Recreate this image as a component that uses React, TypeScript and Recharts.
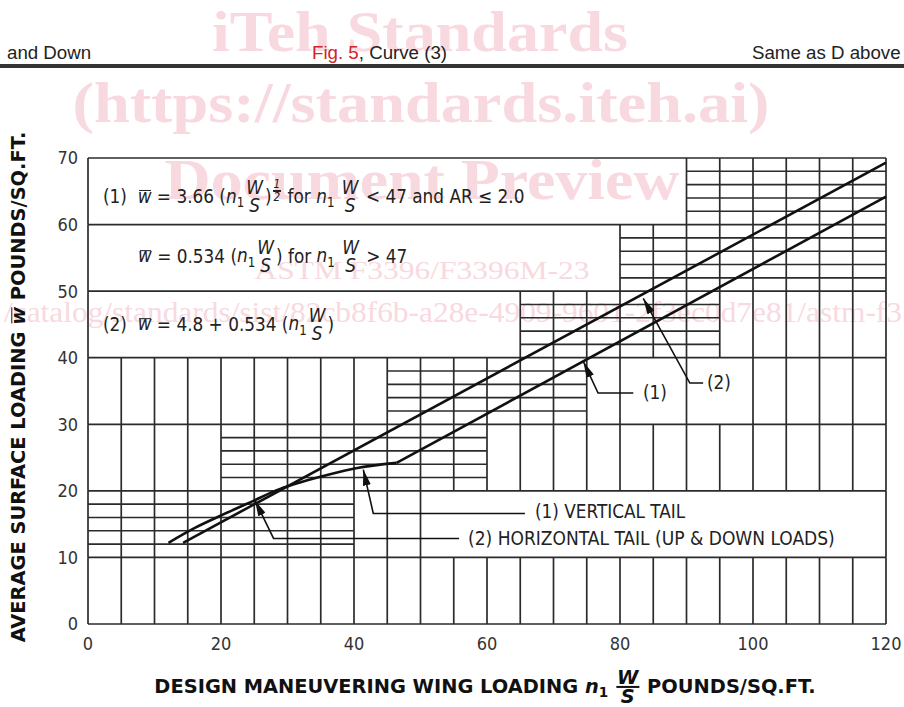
import React from "react"
import { LineChart, Line, XAxis, YAxis, ReferenceLine } from "recharts"

const xTicks = [0, 20, 40, 60, 80, 100, 120]
const yTicks = [0, 10, 20, 30, 40, 50, 60, 70]
const gridX = [0, 5, 10, 15, 20, 25, 30, 35, 40, 45, 50, 55, 60, 65, 70, 75, 80, 85, 90, 95, 100, 105, 110, 115, 120]
const majorY = [0, 10, 20, 30, 40, 50, 60, 70]

// vertical rules, band by band (the text boxes blank them out)
const bands = [
  { y0: 0, y1: 10, xs: gridX },
  { y0: 10, y1: 20, xs: [0, 5, 10, 15, 20, 25, 30, 35, 40, 45, 50, 120] },
  { y0: 20, y1: 30, xs: gridX },
  { y0: 30, y1: 40, xs: gridX.filter((x) => x !== 85 && x !== 95) },
  { y0: 40, y1: 50, xs: [0, 65, 70, 75, 80, 85, 90, 95, 100, 105, 110, 115, 120] },
  { y0: 50, y1: 60, xs: [0, 80, 85, 90, 95, 100, 105, 110, 115, 120] },
  { y0: 60, y1: 70, xs: [0, 90, 95, 100, 105, 110, 115, 120] },
]

// the finer 2-unit rules, stepped along the curves
const fineRules = [
  { ys: [12, 14, 16, 18], x0: 0, x1: 40 },
  { ys: [22, 24, 26, 28], x0: 20, x1: 60 },
  { ys: [32, 34, 36, 38], x0: 45, x1: 75 },
  { ys: [42, 44, 46, 48], x0: 65, x1: 95 },
  { ys: [52, 54, 56, 58], x0: 80, x1: 120 },
  { ys: [62, 64, 66, 68], x0: 90, x1: 120 },
]

// curve (1) vertical tail: bent part below ~46, then straight
const verticalTailBend = [
  { x: 12.1, y: 12.2 },
  { x: 16, y: 14.4 },
  { x: 20, y: 16.3 },
  { x: 24, y: 18.1 },
  { x: 28.9, y: 20.3 },
  { x: 32, y: 21.3 },
  { x: 36.4, y: 22.5 },
  { x: 40.3, y: 23.4 },
  { x: 46.4, y: 24.2 },
]
const verticalTailStraight = [
  { x: 46.4, y: 24.2 },
  { x: 120, y: 64.2 },
]
// curve (2) horizontal tail
const horizontalTail = [
  { x: 14.3, y: 12.2 },
  { x: 120, y: 69.3 },
]

// leader lines, arrow tip first
const leaderVertical = [
  { x: 41.4, y: 23.2 },
  { x: 42.9, y: 16.6 },
  { x: 65.7, y: 16.6 },
]
const leaderHorizontal = [
  { x: 25.1, y: 18.6 },
  { x: 27.9, y: 12.85 },
  { x: 55.8, y: 12.85 },
]
const leaderOne = [
  { x: 74.5, y: 39.4 },
  { x: 76.7, y: 34.7 },
  { x: 82, y: 34.7 },
]
const leaderTwo = [
  { x: 83.5, y: 48.9 },
  { x: 90.5, y: 36.2 },
  { x: 92.5, y: 36.2 },
]

const FONT = "'DejaVu Sans Condensed', 'Liberation Sans', sans-serif"
const TITLE_FONT = "'DejaVu Sans', sans-serif"
const HEAD_FONT = "'Liberation Sans', sans-serif"
const INK = "#222"
const RULE = "#2b2b2b"
const PINK = "#f9d9e0"

const Wbar = () => (
  <span style={{ fontStyle: "italic", position: "relative", display: "inline-block" }}>
    w
    <span
      style={{
        position: "absolute",
        left: "0.08em",
        right: "0.02em",
        top: "0.12em",
        borderTop: "1.6px solid currentColor",
      }}
    />
  </span>
)
const N1 = () => (
  <span>
    <i>n</i>
    <span style={{ fontSize: "0.7em", position: "relative", top: "0.35em" }}>1</span>
  </span>
)
const Frac = ({ top, bottom, bar = false, lh = 0.95 }: any) => (
  <span
    style={{
      display: "inline-flex",
      flexDirection: "column",
      alignItems: "center",
      verticalAlign: "middle",
      lineHeight: lh,
      fontStyle: "italic",
      margin: "0 1px",
    }}
  >
    <span style={{ borderBottom: bar ? "2px solid currentColor" : undefined, padding: "0 1px" }}>{top}</span>
    <span>{bottom}</span>
  </span>
)

const Txt = ({ x, y, size = 18.8, children, style }: any) => (
  <div
    style={{
      position: "absolute",
      left: x,
      top: y,
      transform: "translateY(-50%)",
      fontSize: size,
      lineHeight: 1,
      whiteSpace: "nowrap",
      color: INK,
      fontFamily: FONT,
      ...style,
    }}
  >
    {children}
  </div>
)

export default function App() {
  const rules: any[] = []
  bands.forEach((b) =>
    b.xs.forEach((x) =>
      rules.push(
        <ReferenceLine
          key={`v-${b.y0}-${x}`}
          segment={[{ x, y: b.y0 }, { x, y: b.y1 }]}
          stroke={RULE}
          strokeWidth={1.7}
        />
      )
    )
  )
  majorY.forEach((y) =>
    rules.push(
      <ReferenceLine key={`h-${y}`} segment={[{ x: 0, y }, { x: 120, y }]} stroke={RULE} strokeWidth={1.7} />
    )
  )
  fineRules.forEach((f) =>
    f.ys.forEach((y) =>
      rules.push(
        <ReferenceLine
          key={`f-${y}`}
          segment={[{ x: f.x0, y }, { x: f.x1, y }]}
          stroke={RULE}
          strokeWidth={1.6}
        />
      )
    )
  )

  const leaders = [leaderVertical, leaderHorizontal, leaderOne, leaderTwo]

  return (
    <div style={{ position: "absolute", left: 0, top: 0, width: 904, height: 707, background: "#fff", overflow: "hidden" }}>
      <svg width={904} height={707} style={{ position: "absolute", left: 0, top: 0 }}>
        <g fill={PINK} fontFamily="'Liberation Serif', serif">
          <text x={420} y={51} fontSize={56} fontWeight="bold" textAnchor="middle" textLength={416} lengthAdjust="spacingAndGlyphs">
            iTeh Standards
          </text>
          <text x={421} y={122} fontSize={58} fontWeight="bold" textAnchor="middle" textLength={697} lengthAdjust="spacingAndGlyphs">
            (https://standards.iteh.ai)
          </text>
          <text x={422} y={199} fontSize={58} fontWeight="bold" textAnchor="middle" textLength={515} lengthAdjust="spacingAndGlyphs">
            Document Preview
          </text>
          <text x={422} y={279} fontSize={26} textAnchor="middle" textLength={335} lengthAdjust="spacingAndGlyphs">
            ASTM F3396/F3396M-23
          </text>
          <text x={4} y={322} fontSize={29} textLength={898} lengthAdjust="spacingAndGlyphs">
            /catalog/standards/sist/82cb8f6b-a28e-4909-9601-2f3ec0d7e81/astm-f3
          </text>
        </g>
      </svg>

      <div style={{ position: "absolute", left: 0, top: 0 }}>
        <LineChart width={904} height={707} margin={{ top: 158, right: 18, bottom: 53, left: 48 }}>
          <defs>
            <marker
              id="arrow"
              viewBox="0 0 16 8"
              refX={16}
              refY={4}
              markerWidth={16}
              markerHeight={8}
              markerUnits="userSpaceOnUse"
              orient="auto-start-reverse"
            >
              <path d="M0,0 L16,4 L0,8 z" fill="#111" />
            </marker>
          </defs>
          <XAxis
            type="number"
            dataKey="x"
            domain={[0, 120]}
            ticks={xTicks}
            interval={0}
            height={30}
            axisLine={false}
            tickLine={false}
            tickSize={6}
            tickMargin={7}
            tick={{ fill: "#333", fontSize: 18, fontFamily: FONT }}
          />
          <YAxis
            type="number"
            dataKey="y"
            domain={[0, 70]}
            ticks={yTicks}
            interval={0}
            width={40}
            axisLine={false}
            tickLine={false}
            tickSize={6}
            tickMargin={4}
            tick={{ fill: "#333", fontSize: 18, fontFamily: FONT }}
          />
          {rules}
          {leaders.map((d, i) => (
            <Line
              key={`lead-${i}`}
              data={d}
              dataKey="y"
              type="linear"
              stroke="#111"
              strokeWidth={1.6}
              dot={false}
              activeDot={false}
              markerStart="url(#arrow)"
              isAnimationActive={false}
            />
          ))}
          <Line data={verticalTailBend} dataKey="y" type="monotone" stroke="#111" strokeWidth={2.6} dot={false} activeDot={false} isAnimationActive={false} />
          <Line data={verticalTailStraight} dataKey="y" type="linear" stroke="#111" strokeWidth={2.6} dot={false} activeDot={false} isAnimationActive={false} />
          <Line data={horizontalTail} dataKey="y" type="linear" stroke="#111" strokeWidth={2.6} dot={false} activeDot={false} isAnimationActive={false} />
        </LineChart>
      </div>

      {/* page header */}
      <div style={{ position: "absolute", left: 0, top: 64, width: 904, height: 4, background: "#333" }} />
      <Txt x={7} y={53} size={18.7} style={{ fontFamily: HEAD_FONT }}>
        and Down
      </Txt>
      <Txt x={312} y={53} size={18.7} style={{ fontFamily: HEAD_FONT }}>
        <span style={{ color: "#d2232a" }}>Fig. 5</span>, Curve (3)
      </Txt>
      <Txt x={752} y={53} size={18.7} style={{ fontFamily: HEAD_FONT }}>
        Same as D above
      </Txt>

      {/* equations in the boxes */}
      <Txt x={103} y={197}>
        (1)&nbsp; <Wbar /> = 3.66 (<N1 />
        <Frac top="W" bottom="S" />)
        <span style={{ display: "inline-block", verticalAlign: "0.7em", fontSize: "0.62em" }}>
          <Frac top="1" bottom="2" bar />
        </span>{" "}
        for <N1 /> <Frac top="W" bottom="S" /> &lt; 47 and AR ≤ 2.0
      </Txt>
      <Txt x={138} y={257}>
        <Wbar /> = 0.534 (<N1 />
        <Frac top="W" bottom="S" />) for <N1 /> <Frac top="W" bottom="S" /> &gt; 47
      </Txt>
      <Txt x={103} y={325}>
        (2)&nbsp; <Wbar /> = 4.8 + 0.534 (<N1 />
        <Frac top="W" bottom="S" />)
      </Txt>

      {/* curve labels */}
      <Txt x={643} y={393}>(1)</Txt>
      <Txt x={707} y={383}>(2)</Txt>
      <Txt x={535} y={512}>(1) VERTICAL TAIL</Txt>
      <Txt x={468} y={538} size={19}>(2) HORIZONTAL TAIL (UP &amp; DOWN LOADS)</Txt>

      {/* axis titles */}
      <div
        style={{
          position: "absolute",
          left: 19,
          top: 387,
          transform: "translate(-50%, -50%) rotate(-90deg)",
          fontFamily: TITLE_FONT,
          fontWeight: "bold",
          fontSize: 19.4,
          whiteSpace: "nowrap",
          color: "#111",
          lineHeight: 1,
        }}
      >
        AVERAGE SURFACE LOADING <Wbar /> POUNDS/SQ.FT.
      </div>
      <div
        style={{
          position: "absolute",
          left: 485,
          top: 687,
          transform: "translate(-50%, -50%)",
          fontFamily: TITLE_FONT,
          fontWeight: "bold",
          fontSize: 19.4,
          whiteSpace: "nowrap",
          color: "#111",
          lineHeight: 1,
        }}
      >
        DESIGN MANEUVERING WING LOADING <N1 /> <Frac top="W" bottom="S" bar lh={0.88} /> POUNDS/SQ.FT.
      </div>
    </div>
  )
}
